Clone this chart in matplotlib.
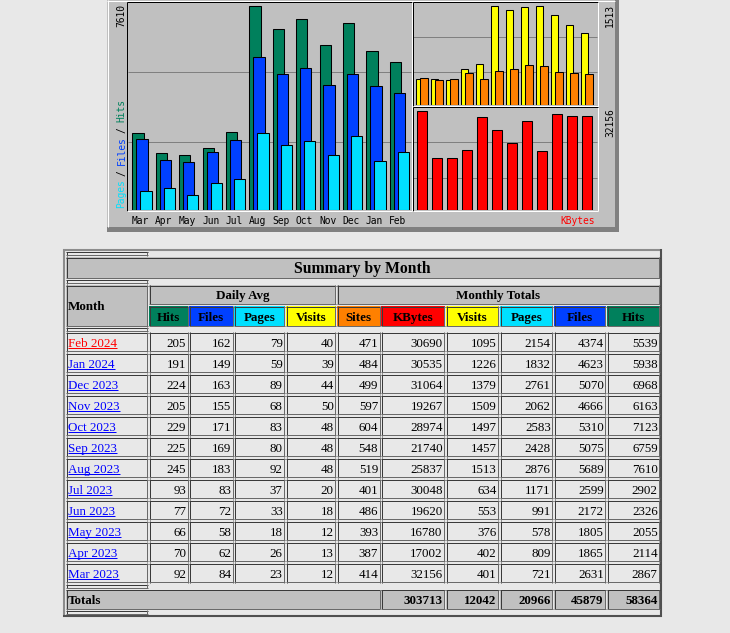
import matplotlib
matplotlib.use('Agg')
import matplotlib.pyplot as plt
from matplotlib.patches import Rectangle
from matplotlib.lines import Line2D
import numpy as np

# ---------------- data ----------------
chart_months = ['Mar', 'Apr', 'May', 'Jun', 'Jul', 'Aug', 'Sep', 'Oct', 'Nov', 'Dec', 'Jan', 'Feb']
table_months = ['Feb 2024', 'Jan 2024', 'Dec 2023', 'Nov 2023', 'Oct 2023', 'Sep 2023',
                'Aug 2023', 'Jul 2023', 'Jun 2023', 'May 2023', 'Apr 2023', 'Mar 2023']
daily_hits = [205, 191, 224, 205, 229, 225, 245, 93, 77, 66, 70, 92]
daily_files = [162, 149, 163, 155, 171, 169, 183, 83, 72, 58, 62, 84]
daily_pages = [79, 59, 89, 68, 83, 80, 92, 37, 33, 18, 26, 23]
daily_visits = [40, 39, 44, 50, 48, 48, 48, 20, 18, 12, 13, 12]
monthly_sites = [471, 484, 499, 597, 604, 548, 519, 401, 486, 393, 387, 414]
monthly_kbytes = [30690, 30535, 31064, 19267, 28974, 21740, 25837, 30048, 19620, 16780, 17002, 32156]
monthly_visits = [1095, 1226, 1379, 1509, 1497, 1457, 1513, 634, 553, 376, 402, 401]
monthly_pages = [2154, 1832, 2761, 2062, 2583, 2428, 2876, 1171, 991, 578, 809, 721]
monthly_files = [4374, 4623, 5070, 4666, 5310, 5075, 5689, 2599, 2172, 1805, 1865, 2631]
monthly_hits = [5539, 5938, 6968, 6163, 7123, 6759, 7610, 2902, 2326, 2055, 2114, 2867]
totals_kbytes = 303713
totals_visits = 12042
totals_pages = 20966
totals_files = 45879
totals_hits = 58364

C_HITS = '#00805c'
C_FILES = '#0040ff'
C_PAGES = '#00e0ff'
C_VISITS = '#ffff00'
C_SITES = '#ff8000'
C_KB = '#ff0000'
PAGE_BG = '#e8e8e8'
HDR_BG = '#c0c0c0'

W, H = 730, 633
fig = plt.figure(figsize=(W / 100, H / 100), dpi=100)
fig.patch.set_facecolor(PAGE_BG)
bg = fig.add_axes([0, 0, 1, 1])
bg.set_xlim(0, W)
bg.set_ylim(H, 0)
bg.axis('off')

LW = 0.72  # ~1px


def hline(x0, x1, y, c, lw=LW, z=2):
    bg.add_line(Line2D([x0, x1], [y, y], color=c, lw=lw, zorder=z, solid_capstyle='butt'))


def vline(x, y0, y1, c, lw=LW, z=2):
    bg.add_line(Line2D([x, x], [y0, y1], color=c, lw=lw, zorder=z, solid_capstyle='butt'))


def px_axes(x0, y0, x1, y1):
    ax = fig.add_axes([x0 / W, 1 - y1 / H, (x1 - x0) / W, (y1 - y0) / H])
    ax.set_facecolor('none')
    for s in ax.spines.values():
        s.set_visible(False)
    return ax

# ---------------- chart image frame ----------------
bg.add_patch(Rectangle((107, 0), 512, 232, facecolor='#808080', edgecolor='none', zorder=1))
bg.add_patch(Rectangle((107, 0), 508, 227, facecolor=HDR_BG, edgecolor='none', zorder=1))
vline(107.5, 0, 227, 'white')
hline(107, 615, 0.5, 'white')

# gridlines
for y in (72, 142):
    hline(128, 411, y, '#808080')
for y in (37, 72, 142, 178):
    hline(413, 597, y, '#808080')

# panel frames
vline(127, 2, 211, 'black')
hline(127, 412, 2, 'black')
hline(127, 412, 211, 'white')
vline(412, 2, 211, 'white')
vline(413, 2, 106, 'black')
hline(413, 598, 2, 'black')
vline(598, 2, 211, 'white')
hline(413, 598, 106, 'white')
hline(413, 598, 107, 'black')
vline(413, 107, 211, 'black')
hline(413, 598, 211, 'white')

# chronological series
hits_c = monthly_hits[::-1]
files_c = monthly_files[::-1]
pages_c = monthly_pages[::-1]
visits_c = monthly_visits[::-1]
sites_c = monthly_sites[::-1]
kb_c = monthly_kbytes[::-1]
x = np.arange(len(chart_months))

MONO_FS = 6.9
# left panel
ax1 = px_axes(127, 2, 412, 210)
slot = 23.4
ax1.set_xlim(-5.3 / slot, -5.3 / slot + 285 / slot)
ax1.set_ylim(0, max(hits_c) * 208 / 204)
bw = 11.3 / slot
ax1.bar(x, hits_c, width=bw, align='edge', color=C_HITS, edgecolor='black', lw=0.75)
ax1.bar(x + 4 / slot, files_c, width=bw, align='edge', color=C_FILES, edgecolor='black', lw=0.75)
ax1.bar(x + 8 / slot, pages_c, width=bw, align='edge', color=C_PAGES, edgecolor='black', lw=0.75)
ax1.set_xticks(x + 8.2 / slot, chart_months, family='DejaVu Sans Mono', fontsize=MONO_FS)
ax1.tick_params(axis='x', length=0, pad=4.0)
ax1.set_yticks([])

# upper right panel
slot2 = 15.0
ax2 = px_axes(412, 2, 598, 105)
ax2.set_xlim(-4 / slot2, -4 / slot2 + 186 / slot2)
ax2.set_ylim(0, max(visits_c) * 103 / 99)
ax2.bar(x, visits_c, width=7 / slot2, align='edge', color=C_VISITS, edgecolor='black', lw=0.75)
ax2.bar(x + 4 / slot2, sites_c, width=7.6 / slot2, align='edge', color=C_SITES, edgecolor='black', lw=0.75)
ax2.set_xticks([])
ax2.set_yticks([])

# lower right panel
ax3 = px_axes(412, 107, 598, 210)
ax3.set_xlim(-4 / slot2, -4 / slot2 + 186 / slot2)
ax3.set_ylim(0, max(kb_c) * 103 / 99)
ax3.bar(x + 1.3 / slot2, kb_c, width=9.3 / slot2, align='edge', color=C_KB, edgecolor='black', lw=0.75)
ax3.set_xticks([])
ax3.set_yticks([])

mono = dict(family='DejaVu Sans Mono', fontsize=MONO_FS, rotation=90, rotation_mode='anchor', zorder=5)
bg.text(121.5, 4, str(max(hits_c)), ha='right', va='center', color='black', **mono)
bg.text(610, 4, str(max(visits_c)), ha='right', va='center', color='black', **mono)
bg.text(610, 108, str(max(kb_c)), ha='right', va='center', color='black', **mono)
adv = 0.6021 * MONO_FS * 100 / 72 * 0.93
parts = [('Pages', C_PAGES, 0), ('/', 'black', 6), ('Files', C_FILES, 8), ('/', 'black', 14), ('Hits', C_HITS, 16)]
for word, col, start in parts:
    bg.text(121.5, 208 - start * adv, word, ha='left', va='center', color=col, **mono)
bg.text(578, 221, 'KBytes', ha='center', va='center', color=C_KB,
        family='DejaVu Sans Mono', fontsize=MONO_FS, zorder=5)

# ---------------- table ----------------
SERIF = 'Liberation Serif'
FS = 9.4
# outer border
bg.add_patch(Rectangle((63.5, 249.5), 598, 367, facecolor=PAGE_BG, edgecolor='none', zorder=1))
hline(63, 662, 249.8, '#8c8c8c', lw=1.5)
vline(63.8, 249, 617, '#8c8c8c', lw=1.5)
hline(63, 662, 616.2, '#505050', lw=1.5)
vline(661.2, 249, 617, '#505050', lw=1.5)


def cell(x0, x1, y0, y1, fc=PAGE_BG):
    bg.add_patch(Rectangle((x0, y0), x1 - x0, y1 - y0, facecolor=fc, edgecolor='none', zorder=2))
    hline(x0, x1, y0 + 0.5, '#3a3a3a', z=3)
    vline(x0 + 0.5, y0, y1, '#3a3a3a', z=3)
    hline(x0, x1, y1 - 0.5, '#6a6a6a', z=3)
    vline(x1 - 0.5, y0, y1, '#6a6a6a', z=3)


cols = [(66, 147.5), (149, 188), (189, 233), (234, 284.5), (286, 335.5), (337, 380),
        (381, 444.5), (446, 498.5), (500, 552.5), (554, 605.5), (607, 659.5)]

# spacers
for (y0, y1) in [(251.7, 255.7), (279.7, 283.7), (327.3, 331.3), (584, 588), (610.3, 614.3)]:
    cell(66, 147.5, y0, y1)

# title
cell(66, 659.5, 257.3, 278.3, HDR_BG)
bg.text((66 + 659.5) / 2, 273.3, 'Summary by Month', ha='center', va='baseline',
        family=SERIF, fontsize=11.3, fontweight='bold', zorder=5)

# header rows
cell(66, 147.5, 285, 326, HDR_BG)
bg.text(68, 309.5, 'Month', ha='left', va='baseline', family=SERIF, fontsize=FS, fontweight='bold', zorder=5)
cell(149, 335.5, 285, 304.3, HDR_BG)
bg.text((149 + 335.5) / 2, 299.2, 'Daily Avg', ha='center', va='baseline', family=SERIF,
        fontsize=FS, fontweight='bold', zorder=5)
cell(337, 659.5, 285, 304.3, HDR_BG)
bg.text((337 + 659.5) / 2, 299.2, 'Monthly Totals', ha='center', va='baseline', family=SERIF,
        fontsize=FS, fontweight='bold', zorder=5)

hdr_labels = ['Hits', 'Files', 'Pages', 'Visits', 'Sites', 'KBytes', 'Visits', 'Pages', 'Files', 'Hits']
hdr_colors = [C_HITS, C_FILES, C_PAGES, C_VISITS, C_SITES, C_KB, C_VISITS, C_PAGES, C_FILES, C_HITS]
for (x0, x1), lab, col in zip(cols[1:], hdr_labels, hdr_colors):
    cell(x0, x1, 306, 326, col)
    bg.text((x0 + x1) / 2, 320.7, lab, ha='center', va='baseline', family=SERIF,
            fontsize=FS, fontweight='bold', zorder=5)

# data rows
series = [daily_hits, daily_files, daily_pages, daily_visits, monthly_sites, monthly_kbytes,
          monthly_visits, monthly_pages, monthly_files, monthly_hits]
month_texts = []
for i, m in enumerate(table_months):
    y0 = 332.3 + 21.0 * i
    y1 = y0 + 19.4
    base = (y0 + y1) / 2 + 4.8
    cell(66, 147.5, y0, y1)
    col = '#ff0000' if i == 0 else '#0000ff'
    t = bg.text(68, base, m, ha='left', va='baseline', family=SERIF, fontsize=FS, color=col, zorder=5)
    month_texts.append((t, base, col))
    for (x0, x1), s in zip(cols[1:], series):
        cell(x0, x1, y0, y1)
        bg.text(x1 - 1.8, base, str(s[i]), ha='right', va='baseline', family=SERIF,
                fontsize=FS, color='black', zorder=5)

# totals row
ty0, ty1 = 589.5, 609
tbase = (ty0 + ty1) / 2 + 4.8
cell(66, 380, ty0, ty1, HDR_BG)
bg.text(68, tbase, 'Totals', ha='left', va='baseline', family=SERIF, fontsize=FS,
        fontweight='bold', zorder=5)
totals = [totals_kbytes, totals_visits, totals_pages, totals_files, totals_hits]
for (x0, x1), v in zip(cols[6:], totals):
    cell(x0, x1, ty0, ty1, HDR_BG)
    bg.text(x1 - 1.8, tbase, str(v), ha='right', va='baseline', family=SERIF, fontsize=FS,
            fontweight='bold', zorder=5)

# underline links
fig.canvas.draw()
r = fig.canvas.get_renderer()
inv = bg.transData.inverted()
for t, base, col in month_texts:
    bb = t.get_window_extent(r)
    (xa, _), (xb, _) = inv.transform([[bb.x0, bb.y0], [bb.x1, bb.y1]])
    hline(xa, xb, base + 1.6, col, lw=0.72, z=5)

fig.savefig('out.png', dpi=100, facecolor=fig.get_facecolor())
